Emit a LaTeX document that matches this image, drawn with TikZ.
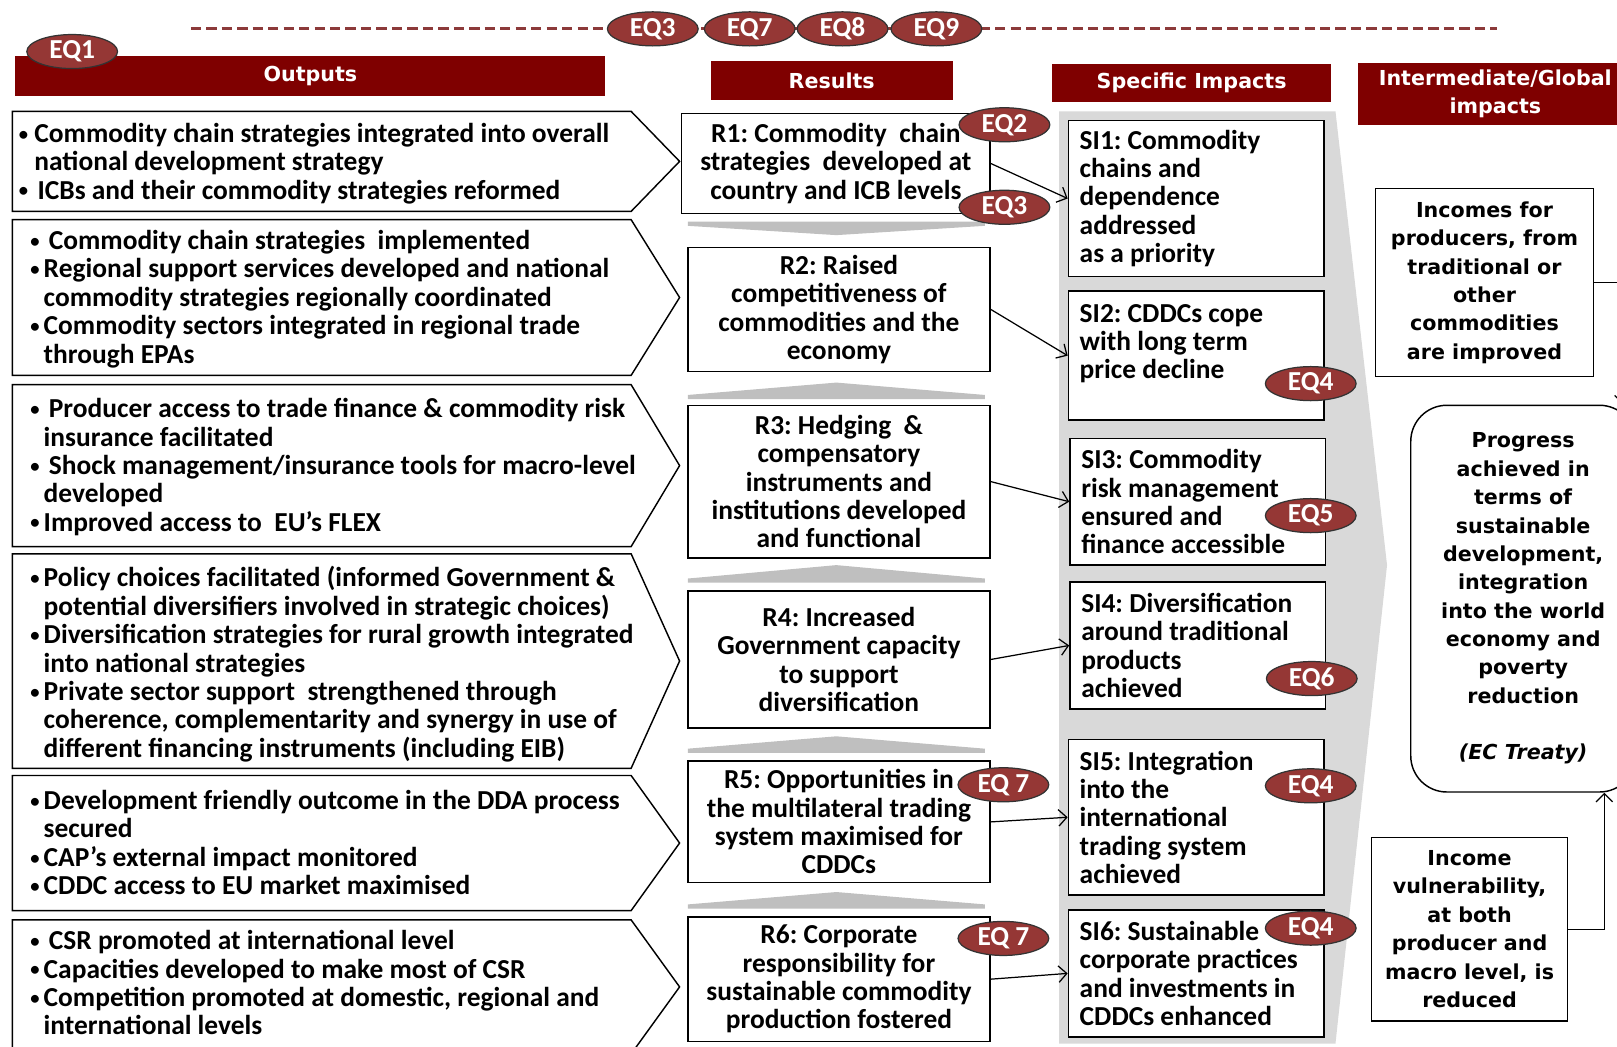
\documentclass[tikz,border=0pt]{standalone}
\usepackage{fontspec}
\setmainfont{Carlito}
\newfontfamily\verdfont{DejaVu Sans}
\usetikzlibrary{arrows.meta,positioning,shapes.geometric}

\definecolor{HeadRed}{HTML}{7F0000}
\definecolor{TagRed}{HTML}{953735}
\definecolor{DashRed}{HTML}{8C3A3A}
\definecolor{PanelGray}{HTML}{D9D9D9}
\definecolor{WedgeGray}{HTML}{BFBFBF}

\frenchspacing
\newcommand\bodyfont{\bfseries\fontsize{13.3}{13.75}\selectfont}
\newcommand\widefont{\verdfont\bfseries\fontsize{10}{13.75}\selectfont}
\newcommand\obul[1][6.5pt]{\makebox[#1][l]{\raisebox{1.1pt}{\fontsize{9}{9}\selectfont\textbullet}}}
\newcommand\oind[1][6.5pt]{\hspace*{#1}}

\tikzset{
  headbar/.style={rectangle, fill=HeadRed, text=white, font=\widefont, align=center, inner sep=0pt},
  eqtag/.style={ellipse, draw=black!80, line width=0.6pt, fill=TagRed, text=white, font=\bfseries\fontsize{13.3}{14}\selectfont, minimum width=44pt, minimum height=16.5pt, inner sep=0pt},
  outarrow/.style={draw=black, line width=0.7pt, fill=white},
  outtext/.style={anchor=north west, align=left, inner sep=0pt, font=\bodyfont},
  resbox/.style={rectangle, draw=black, line width=0.7pt, fill=white, align=center, inner sep=0pt, minimum width=146.5pt, font=\bodyfont},
  sibox/.style={rectangle, draw=black, line width=0.7pt, fill=white, align=flush left, text width=113pt, inner xsep=5.5pt, inner ysep=0pt, font=\bodyfont},
  globbox/.style={rectangle, draw=black, line width=0.7pt, fill=white, align=center, inner sep=0pt, font=\widefont},
  wedge/.style={fill=WedgeGray},
  conn/.style={-{Straight Barb[length=4pt,width=8pt]}, line width=0.6pt},
  dashline/.style={DashRed, line width=1.5pt, dash pattern=on 5pt off 2.5pt}
}

\begin{document}
\begin{tikzpicture}[x=0.5pt, y=-0.5pt]
  \useasboundingbox (0,0) rectangle (1568,1015);
  \clip (0,0) rectangle (1568,1015);

  % grey panel behind the specific impacts
  \fill[PanelGray] (1027,108) -- (1295,108) -- (1345,548) -- (1295,1012) -- (1027,1012) -- cycle;

  % evaluation questions line
  \coordinate (dashL) at (185,28);
  \coordinate (dashR) at (1452,28);
  \draw[dashline] (dashL) -- (dashR);

  % headers
  \node[headbar, minimum width=286pt, minimum height=19.5pt] (hout) at (301,74) {Outputs};
  \node[headbar, minimum width=117.5pt, minimum height=19pt] (hres) at (806.5,78) {Results};
  \node[headbar, minimum width=135.5pt, minimum height=18.5pt] (hspec) at (1155.5,80.5) {Specific Impacts};
  \node[headbar, minimum width=133pt, minimum height=30pt] (hglob) at (1450,91) {Intermediate/Global\\impacts};

  % outputs
  \foreach \t/\b in {108/205, 213/364, 373/530, 537/745, 752/883, 892/1022}
    \draw[outarrow] (12,\t) -- (612,\t) -- (659,{(\t+\b)/2}) -- (612,\b) -- (12,\b) -- cycle;

  \node[outtext] (o1) at (18,119) {\obul[7.5pt]Commodity chain strategies integrated into overall\\
    \oind[7.5pt]national development strategy\\
    \obul[9pt]ICBs and their commodity strategies reformed};
  \node[outtext] (o2) at (29,223) {\obul[9pt]Commodity chain strategies\ \ implemented\\
    \obul Regional support services developed and national\\
    \oind commodity strategies regionally coordinated\\
    \obul Commodity sectors integrated in regional trade\\
    \oind through EPAs};
  \node[outtext] (o3) at (29,386) {\obul[9pt]Producer access to trade finance \& commodity risk\\
    \oind insurance facilitated\\
    \obul[9pt]Shock management/insurance tools for macro-level\\
    \oind developed\\
    \obul Improved access to\ \ EU’s FLEX};
  \node[outtext] (o4) at (29,549) {\obul Policy choices facilitated (informed Government \&\\
    \oind potential diversifiers involved in strategic choices)\\
    \obul Diversification strategies for rural growth integrated\\
    \oind into national strategies\\
    \obul Private sector support\ \ strengthened through\\
    \oind coherence, complementarity and synergy in use of\\
    \oind different financing instruments (including EIB)};
  \node[outtext] (o5) at (29,766) {\obul Development friendly outcome in the DDA process\\
    \oind secured\\
    \obul CAP’s external impact monitored\\
    \obul CDDC access to EU market maximised};
  \node[outtext] (o6) at (29,902) {\obul[9pt]CSR promoted at international level\\
    \obul Capacities developed to make most of CSR\\
    \obul Competition promoted at domestic, regional and\\
    \oind international levels};

  % grey chevrons between results
  \fill[wedge] (667,215) -- (955,215) -- (955,219) -- (811,228) -- (667,219) -- cycle;
  \foreach \a/\b in {371/387, 548/565, 714/730, 865/881}
    \fill[wedge] (667,\b) -- (667,\b-4) -- (811,\a) -- (955,\b-4) -- (955,\b) -- cycle;

  % results
  \node[resbox, minimum width=149.5pt, minimum height=48.5pt] (r1) at (810.5,158.5) {R1: Commodity\ \ chain\\strategies\ \ developed at\\country and ICB levels};
  \node[resbox, minimum height=60pt] (r2) at (813.5,300) {R2: Raised\\competitiveness of\\commodities and the\\economy};
  \node[resbox, minimum height=74pt] (r3) at (813.5,467) {R3: Hedging\ \ \&\\compensatory\\instruments and\\institutions developed\\and functional};
  \node[resbox, minimum height=66.5pt] (r4) at (813.5,639.5) {R4: Increased\\Government capacity\\to support\\diversification};
  \node[resbox, minimum height=59pt] (r5) at (813.5,797) {R5: Opportunities in\\the multilateral trading\\system maximised for\\CDDCs};
  \node[resbox, minimum height=60.5pt] (r6) at (813.5,949.5) {R6: Corporate\\responsibility for\\sustainable commodity\\production fostered};

  % specific impacts
  \node[sibox, minimum height=75.5pt] (si1) at (1160,192.5) {SI1: Commodity\\chains and\\dependence\\addressed\\as a priority};
  \node[sibox, minimum height=62.5pt, below=6.5pt of si1] (si2) {SI2: CDDCs cope\\with long term\\price decline\\\mbox{}};
  \node[sibox, minimum height=61.5pt] (si3) at (1161.5,486.5) {SI3: Commodity\\risk management\\ensured and\\finance accessible};
  \node[sibox, minimum height=61.5pt, below=7.5pt of si3] (si4) {SI4: Diversification\\around traditional\\products\\achieved};
  \node[sibox, minimum height=75.5pt] (si5) at (1160,792.5) {SI5: Integration\\into the\\international\\trading system\\achieved};
  \node[sibox, minimum height=61.5pt, below=6.5pt of si5] (si6) {SI6: Sustainable\\corporate practices\\and investments in\\CDDCs enhanced};

  \foreach \i in {1,...,6}
    \draw[conn] (r\i.east) -- (si\i.west);

  % intermediate / global impacts
  \node[globbox, minimum width=105.5pt, minimum height=91pt] (inc) at (1439.5,274) {Incomes for\\producers, from\\traditional or\\other\\commodities\\are improved};
  \node[globbox, rounded corners=17.5pt, minimum width=109pt, minimum height=187.5pt] (prog) at (1477,580.5) {Progress\\achieved in\\terms of\\sustainable\\development,\\integration\\into the world\\economy and\\poverty\\reduction\\[13.75pt]\itshape(EC Treaty)};
  \node[globbox, minimum width=95pt, minimum height=89pt] (vul) at (1425,901) {Income\\vulnerability,\\at both\\producer and\\macro level, is\\reduced};
  \draw[conn] (inc.east) -| ([xshift=-6.5pt]prog.north east);
  \draw[conn] (vul.east) -| ([xshift=-15.5pt]prog.south east);

  % evaluation questions
  \node[eqtag] (eq1) at (70,50) {EQ1};
  \node[eqtag] (eq3a) at (633,28) {EQ3};
  \node[eqtag] (eq7a) at (727,28) {EQ7};
  \node[eqtag] (eq8) at (817,28) {EQ8};
  \node[eqtag] (eq9) at (908,28) {EQ9};
  \node[eqtag] (eq2) at (974,121) {EQ2};
  \node[eqtag] (eq3b) at (974,201) {EQ3};
  \node[eqtag] (eq4a) at (1271,372) {EQ4};
  \node[eqtag] (eq5) at (1271,500) {EQ5};
  \node[eqtag] (eq6) at (1272,658) {EQ6};
  \node[eqtag] (eq7b) at (973,761) {EQ 7};
  \node[eqtag] (eq4b) at (1271,762) {EQ4};
  \node[eqtag] (eq7c) at (973,910) {EQ 7};
  \node[eqtag] (eq4c) at (1271,900) {EQ4};
\end{tikzpicture}
\end{document}
